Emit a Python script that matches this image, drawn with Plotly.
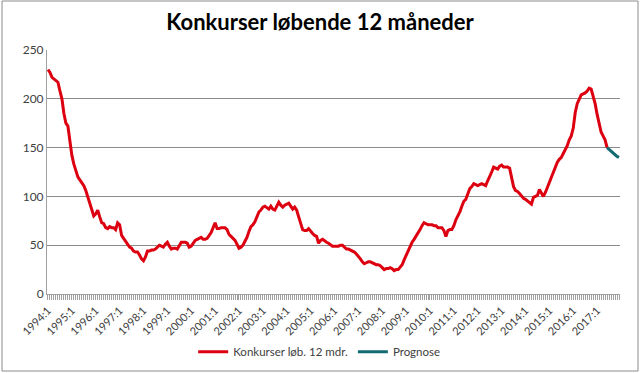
import plotly.graph_objects as go

years = list(range(1994, 2018))
months = [f"{y}:{m}" for y in years for m in range(1, 13)]

# Monthly values, one row per year
v1994 = [230, 227, 222, 220, 219, 217, 208, 200, 185, 175, 172, 155]
v1995 = [142, 133, 127, 120, 117, 114, 111, 106, 100, 94, 87, 80]
v1996 = [82, 86, 79, 73, 72, 68, 67, 69, 68, 68, 66, 73]
v1997 = [71, 60, 57, 54, 50, 48, 47, 44, 43, 43, 40, 36]
v1998 = [34, 38, 44, 44, 45, 45, 46, 48, 50, 49, 48, 51]
v1999 = [53, 49, 46, 47, 47, 46, 49, 53, 53, 53, 52, 48]
v2000 = [49, 52, 55, 56, 57, 58, 56, 56, 57, 60, 63, 68]
v2001 = [73, 67, 67, 68, 68, 68, 66, 61, 59, 57, 55, 51]
v2002 = [47, 48, 50, 54, 58, 64, 69, 71, 74, 79, 84, 86]
v2003 = [89, 90, 88, 87, 90, 87, 86, 90, 94, 91, 89, 91]
v2004 = [92, 93, 90, 87, 89, 86, 79, 72, 66, 65, 65, 67]
v2005 = [64, 62, 60, 59, 52, 55, 56, 54, 53, 52, 50, 49]
v2006 = [49, 49, 49, 50, 50, 48, 46, 46, 45, 44, 43, 41]
v2007 = [39, 36, 33, 31, 32, 33, 33, 32, 31, 30, 30, 29]
v2008 = [27, 25, 26, 26, 27, 26, 24, 25, 25, 27, 30, 35]
v2009 = [40, 45, 49, 53, 56, 59, 62, 66, 70, 73, 72, 71]
v2010 = [71, 71, 70, 70, 68, 68, 68, 65, 59, 65, 66, 66]
v2011 = [70, 76, 80, 84, 90, 95, 97, 102, 108, 110, 113, 112]
v2012 = [111, 112, 113, 112, 111, 116, 120, 125, 130, 129, 128, 131]
v2013 = [132, 130, 130, 130, 129, 120, 110, 106, 105, 103, 100, 98]
v2014 = [97, 95, 93, 92, 99, 100, 101, 107, 103, 100, 104, 109]
v2015 = [114, 120, 126, 131, 135, 138, 140, 144, 148, 152, 158, 162]
v2016 = [170, 186, 195, 199, 204, 205, 206, 208, 211, 210, 203, 195]
v2017_actual = [184, 175, 166, 162, 158, 150]
prognose = [150, 148, 146, 144, 142, 141, 140]

actual = (v1994 + v1995 + v1996 + v1997 + v1998 + v1999 + v2000 + v2001 + v2002
          + v2003 + v2004 + v2005 + v2006 + v2007 + v2008 + v2009 + v2010 + v2011
          + v2012 + v2013 + v2014 + v2015 + v2016 + v2017_actual)
prog_x = months[len(actual) - 1:len(actual) - 1 + len(prognose)]

fig = go.Figure()
fig.add_trace(go.Scatter(x=months[:len(actual)], y=actual, mode="lines",
                         name="Konkurser løb. 12 mdr.",
                         line=dict(color="#DC0010", width=3)))
fig.add_trace(go.Scatter(x=prog_x, y=prognose, mode="lines", name="Prognose",
                         line=dict(color="#136A73", width=3)))

ticktext = [m if m.split(":")[1] == "1" else "" for m in months]

fig.update_layout(
    width=640, height=373,
    margin=dict(l=47, r=20, t=50, b=79, autoexpand=False),
    paper_bgcolor="white", plot_bgcolor="white",
    title=dict(text="<b>Konkurser løbende 12 måneder</b>", x=0.5, xanchor="center",
               y=0.94, yanchor="middle", automargin=False,
               font=dict(family="Lato, Open Sans, sans-serif", size=22, color="#000000")),
    font=dict(family="Lato, Open Sans, sans-serif", color="#404040"),
    showlegend=True,
    legend=dict(orientation="h", x=0.475, xanchor="center", y=-0.237, yanchor="middle",
                font=dict(size=11.5, color="#404040"), itemwidth=30),
    xaxis=dict(type="category", categoryorder="array", categoryarray=months,
               range=[-0.5, len(months) - 0.5], automargin=False,
               tickmode="array", tickvals=months, ticktext=ticktext,
               tickangle=-45, tickfont=dict(size=11, color="#404040"),
               ticks="outside", ticklen=5, tickcolor="#A0A0A0", tickwidth=1,
               showline=True, linecolor="#A0A0A0", linewidth=1,
               showgrid=False, zeroline=False),
    yaxis=dict(range=[0, 250], dtick=50, tickfont=dict(size=12, color="#404040"),
               automargin=False,
               showgrid=True, gridcolor="#8C8C8C", gridwidth=1,
               showline=True, linecolor="#A0A0A0", linewidth=1,
               ticks="", zeroline=False),
    shapes=[dict(type="rect", xref="paper", yref="paper",
                 x0=-0.0785, x1=1.0314, y0=-0.3156, y1=1.2008,
                 line=dict(color="#8C8C8C", width=1), fillcolor="rgba(0,0,0,0)",
                 layer="below")],
)

fig.write_html("out.html", config={"displayModeBar": False},
               post_script="document.body.style.margin='0';document.body.style.overflow='hidden';")
